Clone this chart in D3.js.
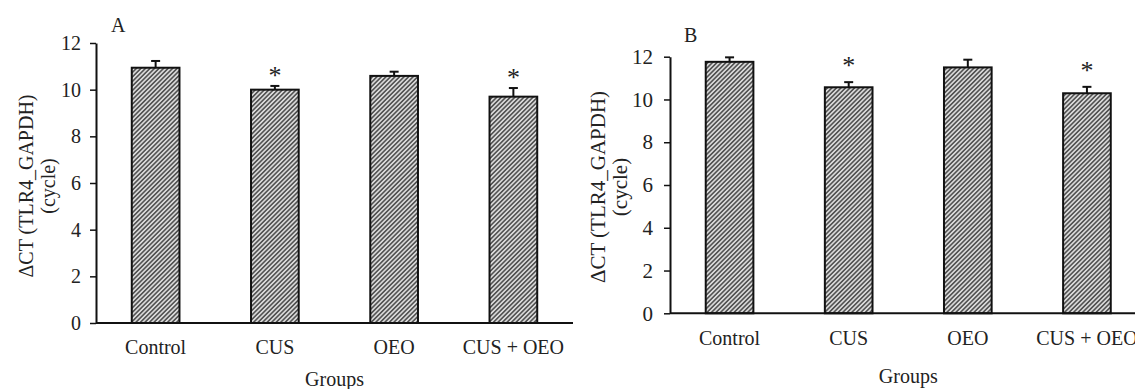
<!DOCTYPE html>
<html>
<head>
<meta charset="utf-8">
<script src="https://cdn.jsdelivr.net/npm/d3@7"></script>
<style>
  html, body { margin: 0; padding: 0; background: #fff; }
  svg { display: block; font-family: "Liberation Serif", "Times New Roman", serif; }
</style>
</head>
<body>
<svg width="1135" height="389"></svg>
<script>
// values
const groups = ["Control", "CUS", "OEO", "CUS + OEO"];
const meansA = [10.94, 10.00, 10.59, 9.70];
const errA = [0.29, 0.16, 0.18, 0.37];
const meansB = [11.76, 10.57, 11.50, 10.29];
const errB = [0.21, 0.24, 0.36, 0.30];
const starred = [false, true, false, true];
const yTicks = [0, 2, 4, 6, 8, 10, 12];

const svg = d3.select("svg");

// fine diagonal hatch used for all the bars
const defs = svg.append("defs");
const pat = defs.append("pattern")
    .attr("id", "hatch")
    .attr("patternUnits", "userSpaceOnUse")
    .attr("width", 3.2)
    .attr("height", 3.2)
    .attr("patternTransform", "rotate(45)");
pat.append("rect").attr("width", 3.2).attr("height", 3.2).attr("fill", "#b4b4b4");
pat.append("line").attr("x1", 0.8).attr("x2", 0.8).attr("y1", 0).attr("y2", 3.2)
    .attr("stroke", "#1a1a1a").attr("stroke-width", 1.0);
pat.append("line").attr("x1", 2.4).attr("x2", 2.4).attr("y1", 0).attr("y2", 3.2)
    .attr("stroke", "#fff").attr("stroke-width", 0.8);

function drawPanel(p) {
    const x = d3.scaleBand()
        .domain(groups)
        .range([p.x0, p.x1])
        .paddingInner(0.6)
        .paddingOuter(0.3);
    const y = d3.scaleLinear().domain([0, 12]).range([p.y0, p.y12]);

    const g = svg.append("g");

    // y axis
    const yAxis = g.append("g")
        .attr("transform", `translate(${p.x0},0)`)
        .call(d3.axisLeft(y).tickValues(yTicks).tickSize(6).tickPadding(p.tickPad).tickSizeOuter(0));
    yAxis.select(".domain").attr("stroke", "#111").attr("stroke-width", 2);
    yAxis.selectAll(".tick line").attr("stroke", "#111").attr("stroke-width", 1.5);
    yAxis.selectAll(".tick text")
        .attr("fill", "#222")
        .style("font-family", "Liberation Serif")
        .style("font-size", p.tickFont + "px");

    // bars
    g.selectAll("rect.bar")
        .data(p.means)
        .enter()
        .append("rect")
        .attr("class", "bar")
        .attr("x", (d, i) => x(groups[i]))
        .attr("width", x.bandwidth())
        .attr("y", d => y(d))
        .attr("height", d => y(0) - y(d))
        .attr("fill", "url(#hatch)")
        .attr("stroke", "#111")
        .attr("stroke-width", 2);

    // upper error bars
    const eb = g.selectAll("g.err")
        .data(p.means)
        .enter()
        .append("g")
        .attr("class", "err");
    eb.append("line")
        .attr("x1", (d, i) => x(groups[i]) + x.bandwidth() / 2)
        .attr("x2", (d, i) => x(groups[i]) + x.bandwidth() / 2)
        .attr("y1", d => y(d))
        .attr("y2", (d, i) => y(d + p.err[i]))
        .attr("stroke", "#111").attr("stroke-width", 2);
    eb.append("line")
        .attr("x1", (d, i) => x(groups[i]) + x.bandwidth() / 2 - 4.5)
        .attr("x2", (d, i) => x(groups[i]) + x.bandwidth() / 2 + 4.5)
        .attr("y1", (d, i) => y(d + p.err[i]))
        .attr("y2", (d, i) => y(d + p.err[i]))
        .attr("stroke", "#111").attr("stroke-width", 2);

    // significance stars
    g.selectAll("text.star")
        .data(p.means.map((d, i) => ({ v: d + p.err[i], i: i })).filter(d => starred[d.i]))
        .enter()
        .append("text")
        .attr("class", "star")
        .attr("x", d => x(groups[d.i]) + x.bandwidth() / 2)
        .attr("y", d => y(d.v) - p.starGap)
        .attr("text-anchor", "middle")
        .attr("fill", "#222")
        .style("font-size", "26px")
        .text("*");

    // x axis line (no ticks)
    g.append("line")
        .attr("x1", p.x0).attr("x2", p.x1)
        .attr("y1", y(0)).attr("y2", y(0))
        .attr("stroke", "#111").attr("stroke-width", 2);

    g.selectAll("text.xlab")
        .data(groups)
        .enter()
        .append("text")
        .attr("class", "xlab")
        .attr("x", d => x(d) + x.bandwidth() / 2)
        .attr("y", y(0) + p.xLabGap)
        .attr("text-anchor", "middle")
        .attr("fill", "#222")
        .style("font-size", "20px")
        .text(d => d);

    g.append("text")
        .attr("x", (p.x0 + p.x1) / 2)
        .attr("y", p.groupsY)
        .attr("text-anchor", "middle")
        .attr("fill", "#222")
        .style("font-size", "20px")
        .text("Groups");

    // y title, two lines
    const yt = g.append("text")
        .attr("transform", `translate(${p.ytX},${p.ytY}) rotate(-90)`)
        .attr("text-anchor", "middle")
        .attr("fill", "#222")
        .style("font-size", p.ytFont + "px");
    yt.append("tspan").attr("x", 0).attr("y", 0).text("ΔCT (TLR4_GAPDH)");
    yt.append("tspan").attr("x", 0).attr("y", 22).text("(cycle)");

    g.append("text")
        .attr("x", p.letterX)
        .attr("y", p.letterY)
        .attr("fill", "#222")
        .style("font-size", "20px")
        .text(p.letter);
}

drawPanel({
    letter: "A", letterX: 111, letterY: 32,
    means: meansA, err: errA,
    x0: 96, x1: 573, y0: 323, y12: 43,
    tickPad: 9, tickFont: 20, starGap: 2,
    xLabGap: 31, groupsY: 386,
    ytX: 33, ytY: 186, ytFont: 20
});

drawPanel({
    letter: "B", letterX: 684, letterY: 42,
    means: meansB, err: errB,
    x0: 670, x1: 1146.5, y0: 313.3, y12: 56.7,
    tickPad: 11, tickFont: 21, starGap: 8,
    xLabGap: 32, groupsY: 382.5,
    ytX: 605, ytY: 187, ytFont: 21
});
</script>
</body>
</html>
